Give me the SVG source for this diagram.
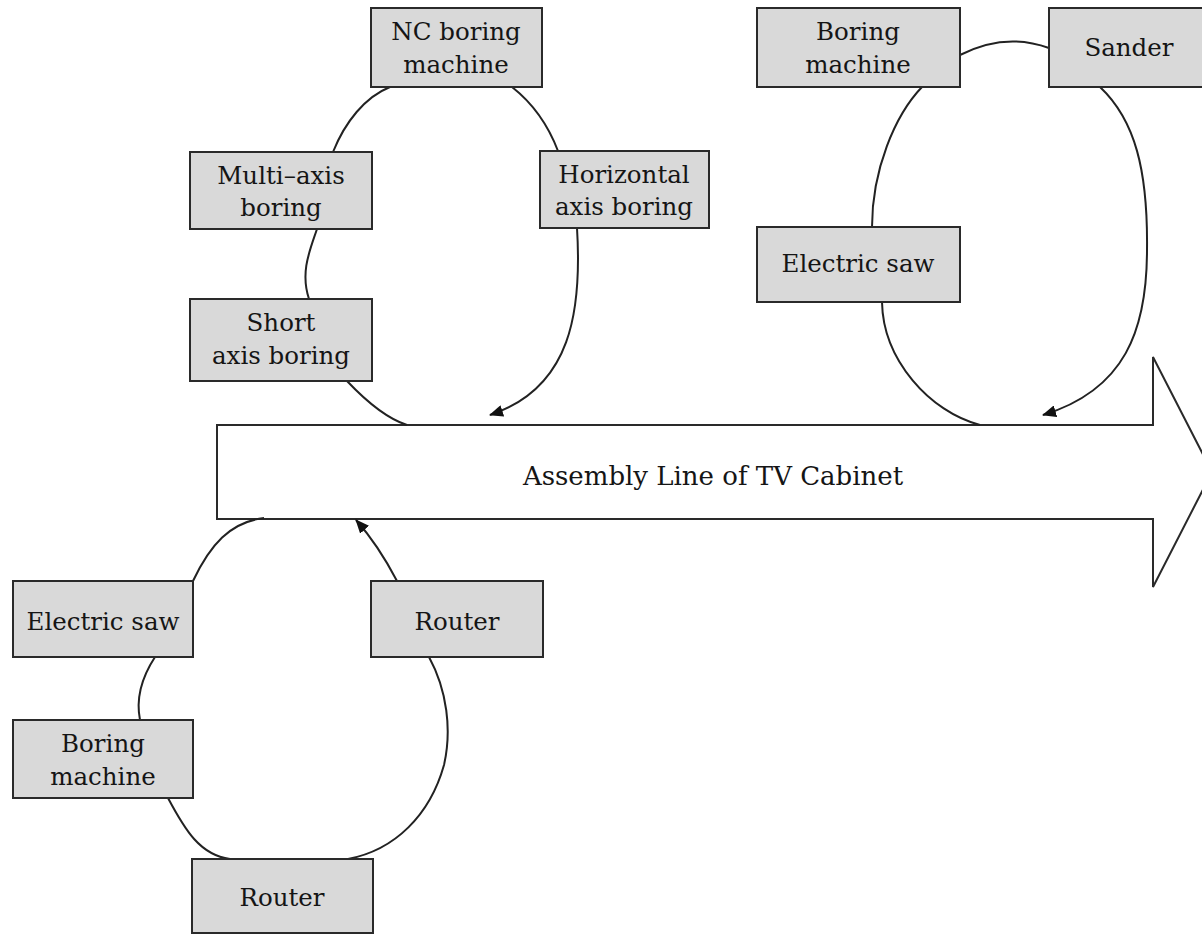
<svg xmlns="http://www.w3.org/2000/svg" width="1202" height="935" viewBox="0 0 1202 935">
<style>
.box{fill:#d9d9d9;stroke:#2a2a2a;stroke-width:2}
.lbl{font-family:"DejaVu Serif","Liberation Serif",serif;font-size:24.5px;fill:#151515;text-anchor:middle}
.big{font-family:"DejaVu Serif","Liberation Serif",serif;font-size:26px;fill:#151515;text-anchor:middle}
.con{fill:none;stroke:#222;stroke-width:2}
</style>
<defs>
<marker id="ah" markerWidth="14" markerHeight="12" refX="13" refY="6" orient="auto" markerUnits="userSpaceOnUse">
<path d="M0,0 L14,6 L0,12 Z" fill="#111"/>
</marker>
</defs>
<rect width="1202" height="935" fill="#ffffff"/>

<g id="assembly-line">
<polygon points="217,425 1153,425 1153,357 1212,472 1153,587 1153,519 217,519" fill="#fff" stroke="#2a2a2a" stroke-width="2"/>
<text class="big" x="713" y="485">Assembly Line of TV Cabinet</text>
</g>

<g id="connectors">
<path class="con" d="M390,87 C365,97 345,122 333,152"/>
<path class="con" d="M512,87 C535,105 550,130 558,151"/>
<path class="con" d="M317,229 C310,250 300,272 309,299"/>
<path class="con" d="M347,381 C365,400 385,418 407,425"/>
<path class="con" d="M577,228 C582,310 572,388 490,415" marker-end="url(#ah)"/>
<path class="con" d="M960,55 Q1005,32 1049,48"/>
<path class="con" d="M922,87 C895,115 872,170 872,227"/>
<path class="con" d="M882,302 C883,360 930,412 980,425"/>
<path class="con" d="M1100,87 C1135,120 1148,170 1147,250 C1147,330 1125,390 1043,415" marker-end="url(#ah)"/>
<path class="con" d="M193,581 C210,545 230,522 264,518"/>
<path class="con" d="M397,581 C385,558 372,538 356,520" marker-end="url(#ah)"/>
<path class="con" d="M155,657 C140,680 136,700 140,720"/>
<path class="con" d="M168,798 C185,830 200,855 230,859"/>
<path class="con" d="M429,657 C447,690 452,730 444,765 C430,815 395,850 348,859"/>
</g>

<g id="nc-boring-machine">
<rect class="box" x="371" y="8" width="171" height="79"/>
<text class="lbl" x="456" y="40">NC boring</text>
<text class="lbl" x="456" y="73">machine</text>
</g>
<g id="multi-axis-boring">
<rect class="box" x="190" y="152" width="182" height="77"/>
<text class="lbl" x="281" y="184">Multi–axis</text>
<text class="lbl" x="281" y="216">boring</text>
</g>
<g id="horizontal-axis-boring">
<rect class="box" x="540" y="151" width="169" height="77"/>
<text class="lbl" x="624" y="183">Horizontal</text>
<text class="lbl" x="624" y="215">axis boring</text>
</g>
<g id="short-axis-boring">
<rect class="box" x="190" y="299" width="182" height="82"/>
<text class="lbl" x="281" y="331">Short</text>
<text class="lbl" x="281" y="364">axis boring</text>
</g>
<g id="boring-machine-top">
<rect class="box" x="757" y="8" width="203" height="79"/>
<text class="lbl" x="858" y="40">Boring</text>
<text class="lbl" x="858" y="73">machine</text>
</g>
<g id="sander">
<rect class="box" x="1049" y="8" width="162" height="79"/>
<text class="lbl" x="1129" y="56">Sander</text>
</g>
<g id="electric-saw-top">
<rect class="box" x="757" y="227" width="203" height="75"/>
<text class="lbl" x="858" y="272">Electric saw</text>
</g>
<g id="electric-saw-bottom">
<rect class="box" x="13" y="581" width="180" height="76"/>
<text class="lbl" x="103" y="630">Electric saw</text>
</g>
<g id="router-right">
<rect class="box" x="371" y="581" width="172" height="76"/>
<text class="lbl" x="457" y="630">Router</text>
</g>
<g id="boring-machine-bottom">
<rect class="box" x="13" y="720" width="180" height="78"/>
<text class="lbl" x="103" y="752">Boring</text>
<text class="lbl" x="103" y="785">machine</text>
</g>
<g id="router-bottom">
<rect class="box" x="192" y="859" width="181" height="74"/>
<text class="lbl" x="282" y="906">Router</text>
</g>
</svg>
